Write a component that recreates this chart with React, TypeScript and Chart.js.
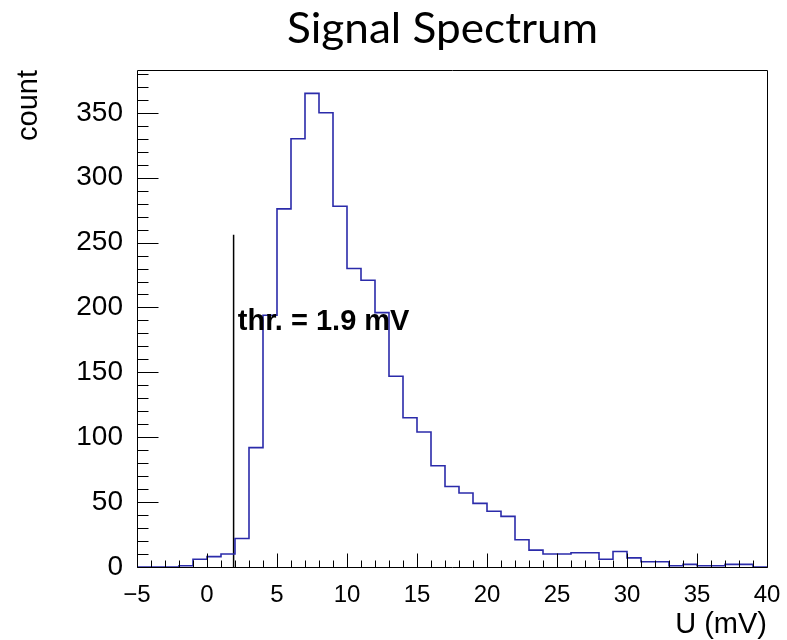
import React, { useEffect, useRef } from "react";
import { Chart, registerables } from "chart.js";

Chart.register(...registerables);

// ---- data ----
const binLowEdges = [
  -5, -4, -3, -2, -1, 0, 1, 2, 3, 4, 5, 6, 7, 8, 9, 10, 11, 12, 13, 14, 15, 16, 17,
  18, 19, 20, 21, 22, 23, 24, 25, 26, 27, 28, 29, 30, 31, 32, 33, 34, 35, 36, 37, 38, 39,
];
const lastBinUpperEdge = 40;
const counts = [
  0, 0, 0, 1, 6, 8, 10, 22, 92, 194, 276, 330, 365, 350, 278, 230, 221, 196, 147, 115,
  104, 78, 62, 57, 49, 43, 39, 21, 13, 10, 10, 11, 11, 6, 12, 7, 4, 4, 1, 2, 1, 1, 2, 2, 0,
];
const thresholdValue = 1.9;
const thresholdMarkerTop = 256;
const thresholdText = "thr. = 1.9 mV";
const thresholdTextX = 2.2;
const thresholdTextY = 183;

const xMajorTicks = [-5, 0, 5, 10, 15, 20, 25, 30, 35, 40];
const yMajorTicks = [0, 50, 100, 150, 200, 250, 300, 350];
const xMinorStep = 1;
const yMinorStep = 10;
const xMin = -5;
const xMax = 40;
const yMin = 0;
const yMax = 383;

const titleText = "Signal Spectrum";
const xTitle = "U (mV)";
const yTitle = "count";

const histColor = "#2b2baa";

const rootStylePlugin = {
  id: "rootStyle",
  afterDatasetsDraw(chart: any) {
    const { ctx, chartArea: a, scales } = chart;
    const xs = scales.x;
    const ys = scales.y;
    ctx.save();
    ctx.strokeStyle = "#000";
    ctx.lineWidth = 1;
    // frame
    const L = Math.round(a.left) + 0.5;
    const T = Math.round(a.top) + 0.5;
    const R = Math.round(a.right) + 0.5;
    const B = Math.round(a.bottom) + 0.5;
    ctx.beginPath();
    ctx.moveTo(L, T);
    ctx.lineTo(R, T);
    ctx.lineTo(R, B);
    ctx.lineTo(L, B);
    ctx.closePath();
    ctx.stroke();
    // x ticks (inside, upward)
    ctx.beginPath();
    for (let v = xMin; v <= xMax + 1e-9; v += xMinorStep) {
      const px = Math.round(xs.getPixelForValue(v)) + 0.5;
      const major = Math.abs(v % 5) < 1e-9;
      ctx.moveTo(px, B);
      ctx.lineTo(px, B - (major ? 14 : 7));
    }
    // y ticks (inside, rightward)
    for (let v = yMin; v <= yMax + 1e-9; v += yMinorStep) {
      const py = Math.round(ys.getPixelForValue(v)) + 0.5;
      const major = Math.abs(v % 50) < 1e-9;
      ctx.moveTo(L, py);
      ctx.lineTo(L + (major ? 21 : 11), py);
    }
    ctx.stroke();
    // threshold annotation
    ctx.fillStyle = "#000";
    ctx.font = "bold 29px 'Liberation Sans', Arial, sans-serif";
    ctx.textAlign = "left";
    ctx.textBaseline = "alphabetic";
    ctx.fillText(thresholdText, xs.getPixelForValue(thresholdTextX), ys.getPixelForValue(thresholdTextY));
    ctx.restore();
  },
  afterDraw(chart: any) {
    const { ctx, chartArea: a } = chart;
    ctx.save();
    ctx.fillStyle = "#000";
    // title
    ctx.font = "43px Lato, 'Open Sans', sans-serif";
    ctx.textBaseline = "alphabetic";
    ctx.textAlign = "left";
    const w = ctx.measureText(titleText).width;
    const targetW = 311;
    const sx = targetW / w;
    ctx.save();
    ctx.translate(287, 43);
    ctx.scale(sx, 1);
    ctx.fillText(titleText, 0, 0);
    ctx.restore();
    // x axis title
    ctx.font = "29px 'Liberation Sans', Arial, sans-serif";
    ctx.textAlign = "right";
    ctx.fillText(xTitle, a.right, 633);
    // y axis title
    ctx.save();
    ctx.translate(37, a.top);
    ctx.rotate(-Math.PI / 2);
    ctx.textAlign = "right";
    ctx.fillText(yTitle, 0, 0);
    ctx.restore();
    ctx.restore();
  },
};

export default function App() {
  const canvasRef = useRef<HTMLCanvasElement | null>(null);

  useEffect(() => {
    const canvas = canvasRef.current;
    if (!canvas) return;
    // point i carries the bin content; the first point sits at the lower edge of the range
    const histPoints = [{ x: binLowEdges[0], y: counts[0] }];
    binLowEdges.forEach((lo, i) => {
      const hi = i + 1 < binLowEdges.length ? binLowEdges[i + 1] : lastBinUpperEdge;
      histPoints.push({ x: hi, y: counts[i] });
    });
    const thresholdPoints = [
      { x: thresholdValue, y: 0 },
      { x: thresholdValue, y: thresholdMarkerTop },
    ];
    const chart = new Chart(canvas, {
      type: "line",
      data: {
        datasets: [
          {
            label: "Signal",
            data: histPoints,
            stepped: "after",
            borderColor: histColor,
            borderWidth: 1.6,
            pointRadius: 0,
            fill: false,
          },
          {
            label: "Threshold",
            data: thresholdPoints,
            borderColor: "#000",
            borderWidth: 1.5,
            pointRadius: 0,
            fill: false,
          },
        ],
      },
      options: {
        responsive: false,
        animation: false,
        devicePixelRatio: 1,
        layout: { padding: { top: 70, right: 20, left: 0, bottom: 0 } },
        plugins: {
          legend: { display: false },
          title: { display: false },
          tooltip: { enabled: false },
        },
        scales: {
          x: {
            type: "linear",
            min: xMin,
            max: xMax,
            grid: { display: false },
            border: { display: false },
            afterBuildTicks: (scale: any) => {
              scale.ticks = xMajorTicks.map((value) => ({ value }));
            },
            afterFit: (scale: any) => {
              scale.height = 73;
            },
            ticks: {
              autoSkip: false,
              maxRotation: 0,
              padding: 6,
              color: "#000",
              font: { family: "'Liberation Sans', Arial, sans-serif", size: 24 },
              callback: (v: any) => (Number(v) < 0 ? "\u2212" + Math.abs(Number(v)) : String(v)),
            },
          },
          y: {
            type: "linear",
            min: yMin,
            max: yMax,
            grid: { display: false },
            border: { display: false },
            afterBuildTicks: (scale: any) => {
              scale.ticks = yMajorTicks.map((value) => ({ value }));
            },
            afterFit: (scale: any) => {
              scale.width = 137;
            },
            ticks: {
              autoSkip: false,
              padding: 6,
              color: "#000",
              font: { family: "'Liberation Sans', Arial, sans-serif", size: 28 },
              callback: (v: any) => String(v),
            },
          },
        },
      },
      plugins: [rootStylePlugin],
    });
    return () => chart.destroy();
  }, []);

  return (
    <div style={{ position: "fixed", left: 0, top: 0, width: 787, height: 640, background: "#fff" }}>
      <canvas ref={canvasRef} width={787} height={640} />
    </div>
  );
}
